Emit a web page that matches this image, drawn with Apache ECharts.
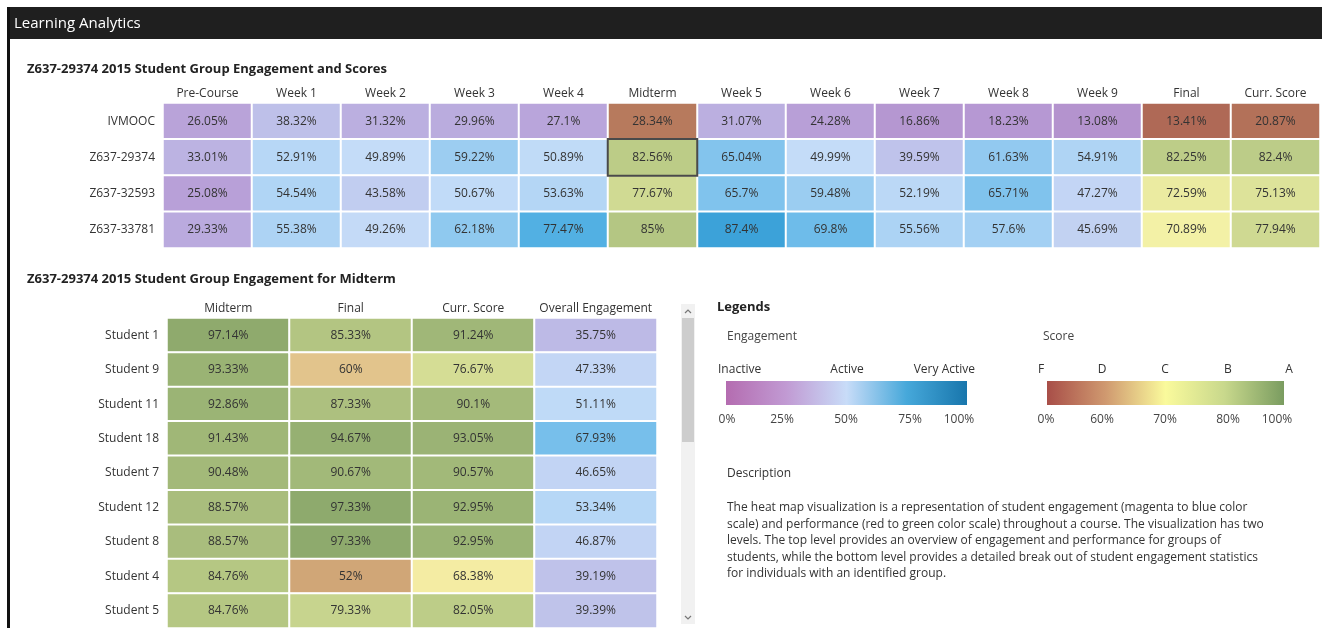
<!DOCTYPE html>
<html>
<head>
<meta charset="utf-8">
<title>Learning Analytics</title>
<script src="https://cdn.jsdelivr.net/npm/echarts@6.0.0/dist/echarts.min.js"></script>
<style>
  html, body { margin: 0; padding: 0; background: #fff; }
  #chart { width: 1322px; height: 628px; }
</style>
</head>
<body>
<div id="chart"></div>
<script>
// top table: groups x weeks
const weekColumns = ['Pre-Course', 'Week 1', 'Week 2', 'Week 3', 'Week 4', 'Midterm', 'Week 5',
  'Week 6', 'Week 7', 'Week 8', 'Week 9', 'Final', 'Curr. Score'];
const groupNames = ['IVMOOC', 'Z637-29374', 'Z637-32593', 'Z637-33781'];
const ivmooc = [26.05, 38.32, 31.32, 29.96, 27.1, 28.34, 31.07, 24.28, 16.86, 18.23, 13.08, 13.41, 20.87];
const z29374 = [33.01, 52.91, 49.89, 59.22, 50.89, 82.56, 65.04, 49.99, 39.59, 61.63, 54.91, 82.25, 82.4];
const z32593 = [25.08, 54.54, 43.58, 50.67, 53.63, 77.67, 65.7, 59.48, 52.19, 65.71, 47.27, 72.59, 75.13];
const z33781 = [29.33, 55.38, 49.26, 62.18, 77.47, 85, 87.4, 69.8, 55.56, 57.6, 45.69, 70.89, 77.94];
const scoreColumns = ['Midterm', 'Final', 'Curr. Score'];
const selectedGroup = 'Z637-29374';
const selectedColumn = 'Midterm';

// bottom table: students of the selected group
const studentColumns = ['Midterm', 'Final', 'Curr. Score', 'Overall Engagement'];
const studentNames = ['Student 1', 'Student 9', 'Student 11', 'Student 18', 'Student 7',
  'Student 12', 'Student 8', 'Student 4', 'Student 5'];
const midterm = [97.14, 93.33, 92.86, 91.43, 90.48, 88.57, 88.57, 84.76, 84.76];
const finalExam = [85.33, 60, 87.33, 94.67, 90.67, 97.33, 97.33, 52, 79.33];
const currScore = [91.24, 76.67, 90.1, 93.05, 90.57, 92.95, 92.95, 68.38, 82.05];
const overallEngagement = [35.75, 47.33, 51.11, 67.93, 46.65, 53.34, 46.87, 39.19, 39.39];

// legend ticks
const engagementLevels = ['Inactive', 'Active', 'Very Active'];
const engagementTicks = ['0%', '25%', '50%', '75%', '100%'];
const scoreGrades = ['F', 'D', 'C', 'B', 'A'];
const scoreTicks = ['0%', '60%', '70%', '80%', '100%'];

const FONT = '"Open Sans", "Noto Sans", sans-serif';

// colour ramps (stops evenly spaced from 0 to 100)
const engagementRamp = ['#b084c4', '#b8a0d8', '#c4dcf8', '#58b4e6', '#1f8fcc'];
const scoreRamp = ['#a85a50', '#ad6555', '#b27058', '#b87c5e', '#c08a66', '#cc9e72',
  '#e2c48c', '#f8f4a8', '#c4d28c', '#a4ba7a', '#86a468'];

const groupRows = [ivmooc, z29374, z32593, z33781];
const topEngagement = [];
const topScore = [];
let highlighted = null;
groupRows.forEach((row, y) => {
  row.forEach((v, x) => {
    const col = weekColumns[x];
    if (scoreColumns.includes(col)) {
      if (groupNames[y] === selectedGroup && col === selectedColumn) {
        highlighted = { value: [x, y, v], itemStyle: { borderColor: '#4a4a4a', borderWidth: 2 } };
      } else {
        topScore.push([x, y, v]);
      }
    } else {
      topEngagement.push([x, y, v]);
    }
  });
});
if (highlighted) topScore.push(highlighted);

const studentValues = [midterm, finalExam, currScore, overallEngagement];
const bottomScore = [];
const bottomEngagement = [];
studentValues.forEach((vals, x) => {
  vals.forEach((v, y) => {
    (studentColumns[x] === 'Overall Engagement' ? bottomEngagement : bottomScore).push([x, y, v]);
  });
});

const cellLabel = {
  show: true,
  formatter: p => p.value[2] + '%',
  color: '#333',
  fontSize: 12,
  fontFamily: FONT
};
const cellStyle = { borderColor: '#fff', borderWidth: 2 };

function catX(data, gridIndex) {
  return {
    type: 'category', data, gridIndex, position: 'top',
    axisLine: { show: false }, axisTick: { show: false }, splitLine: { show: false },
    axisLabel: { color: '#333', fontSize: 12, fontFamily: FONT, margin: 3, interval: 0 }
  };
}
function catY(data, gridIndex, margin) {
  return {
    type: 'category', data, gridIndex, inverse: true,
    axisLine: { show: false }, axisTick: { show: false }, splitLine: { show: false },
    axisLabel: { color: '#333', fontSize: 12, fontFamily: FONT, margin, interval: 0 }
  };
}

function txt(text, x, y, opts) {
  return {
    type: 'text', x, y, silent: true,
    style: Object.assign({
      text, fill: '#333', font: '12px ' + FONT, align: 'left', verticalAlign: 'middle'
    }, opts || {})
  };
}

const engBar = { x: 726, y: 381, w: 241, h: 24 };
const scoreBar = { x: 1047, y: 381, w: 237, h: 24 };
const engLevelX = [718, 847, 975];
const engTickX = [727, 782, 846, 910, 959];
const scoreX = [1041, 1102, 1165, 1228, 1289];
const scoreTickX = [1046, 1102, 1165, 1228, 1277];

const description = [
  'The heat map visualization is a representation of student engagement (magenta to blue color',
  'scale) and performance (red to green color scale) throughout a course. The visualization has two',
  'levels. The top level provides an overview of engagement and performance for groups of',
  'students, while the bottom level provides a detailed break out of student engagement statistics',
  'for individuals with an identified group.'
];

const graphics = [
  { type: 'rect', shape: { x: 7, y: 7, width: 1315, height: 32 }, style: { fill: '#1f1f1f' }, silent: true },
  { type: 'rect', shape: { x: 7, y: 7, width: 3, height: 621 }, style: { fill: '#111' }, silent: true },
  txt('Learning Analytics', 14, 24, { fill: '#fff', font: '15px ' + FONT }),
  txt('Legends', 717, 307, { fill: '#222', font: 'bold 13px ' + FONT }),
  txt('Engagement', 727, 337, { fill: '#444' }),
  txt('Score', 1043, 337, { fill: '#444' }),
  {
    type: 'rect', silent: true,
    shape: { x: engBar.x, y: engBar.y, width: engBar.w, height: engBar.h },
    style: { fill: new echarts.graphic.LinearGradient(0, 0, 1, 0, [
      { offset: 0, color: '#b46cb0' }, { offset: 0.25, color: '#c19ad3' },
      { offset: 0.5, color: '#c8dcf8' }, { offset: 0.75, color: '#46a8da' },
      { offset: 1, color: '#1876ac' }]) }
  },
  {
    type: 'rect', silent: true,
    shape: { x: scoreBar.x, y: scoreBar.y, width: scoreBar.w, height: scoreBar.h },
    style: { fill: new echarts.graphic.LinearGradient(0, 0, 1, 0, [
      { offset: 0, color: '#a84e48' }, { offset: 0.25, color: '#d09a70' },
      { offset: 0.5, color: '#fafa9c' }, { offset: 0.75, color: '#c8d88c' },
      { offset: 1, color: '#7a9c60' }]) }
  },
  txt('Description', 727, 474, { fill: '#333' }),
  // scroll bar of the student list
  { type: 'rect', shape: { x: 681, y: 304, width: 14, height: 320 }, style: { fill: '#f1f1f1' }, silent: true },
  { type: 'rect', shape: { x: 682, y: 318, width: 12, height: 124 }, style: { fill: '#cdcdcd' }, silent: true },
  { type: 'polyline', shape: { points: [[685, 313], [688, 310], [691, 313]] }, style: { stroke: '#777', lineWidth: 1.2, fill: null }, silent: true },
  { type: 'polyline', shape: { points: [[685, 616], [688, 619], [691, 616]] }, style: { stroke: '#777', lineWidth: 1.2, fill: null }, silent: true }
];
engagementLevels.forEach((t, i) => graphics.push(txt(t, engLevelX[i], 370,
  { align: i === 0 ? 'left' : (i === 2 ? 'right' : 'center') })));
engagementTicks.forEach((t, i) => graphics.push(txt(t, engTickX[i], 420, { align: 'center', fill: '#444' })));
scoreGrades.forEach((t, i) => graphics.push(txt(t, scoreX[i], 370, { align: 'center' })));
scoreTicks.forEach((t, i) => graphics.push(txt(t, scoreTickX[i], 420, { align: 'center', fill: '#444' })));
description.forEach((line, i) => graphics.push(txt(line, 727, 508 + i * 16.5)));

const chart = echarts.init(document.getElementById('chart'));
chart.setOption({
  backgroundColor: '#fff',
  animation: false,
  title: [
    { text: 'Z637-29374 2015 Student Group Engagement and Scores', left: 27, top: 63, padding: 0,
      textStyle: { fontSize: 13, fontWeight: 'bold', color: '#222', fontFamily: FONT } },
    { text: 'Z637-29374 2015 Student Group Engagement for Midterm', left: 27, top: 273, padding: 0,
      textStyle: { fontSize: 13, fontWeight: 'bold', color: '#222', fontFamily: FONT } }
  ],
  grid: [
    { left: 163, top: 103, width: 1157, height: 145 },
    { left: 167, top: 318, width: 490, height: 320 }
  ],
  xAxis: [catX(weekColumns, 0), catX(studentColumns, 1)],
  yAxis: [catY(groupNames, 0, 8), catY(studentNames, 1, 8)],
  visualMap: [
    { type: 'continuous', show: false, min: 0, max: 100, dimension: 2, seriesIndex: [0, 3],
      inRange: { color: engagementRamp } },
    { type: 'continuous', show: false, min: 0, max: 100, dimension: 2, seriesIndex: [1, 2],
      inRange: { color: scoreRamp } }
  ],
  series: [
    { type: 'heatmap', name: 'Engagement', xAxisIndex: 0, yAxisIndex: 0, data: topEngagement,
      label: cellLabel, itemStyle: cellStyle, emphasis: { disabled: true } },
    { type: 'heatmap', name: 'Score', xAxisIndex: 0, yAxisIndex: 0, data: topScore,
      label: cellLabel, itemStyle: cellStyle, emphasis: { disabled: true } },
    { type: 'heatmap', name: 'Student Score', xAxisIndex: 1, yAxisIndex: 1, data: bottomScore,
      label: cellLabel, itemStyle: cellStyle, emphasis: { disabled: true } },
    { type: 'heatmap', name: 'Student Engagement', xAxisIndex: 1, yAxisIndex: 1, data: bottomEngagement,
      label: cellLabel, itemStyle: cellStyle, emphasis: { disabled: true } }
  ],
  graphic: graphics
});
</script>
</body>
</html>
